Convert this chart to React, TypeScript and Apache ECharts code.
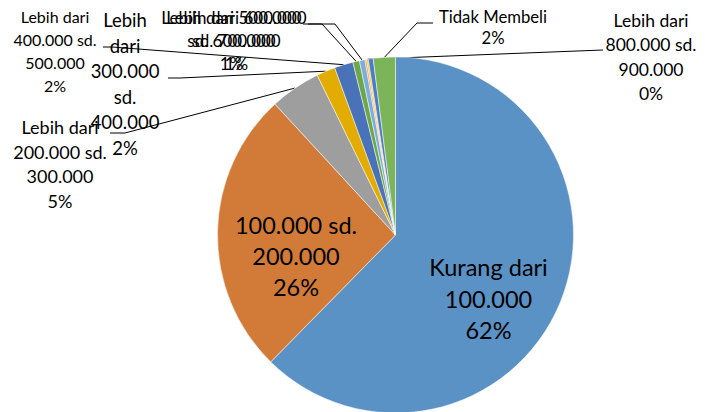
import React, { useEffect, useRef } from 'react';
import * as echarts from 'echarts';

const categories = [
  'Kurang dari 100.000',
  '100.000 sd. 200.000',
  'Lebih dari 200.000 sd. 300.000',
  'Lebih dari 300.000 sd. 400.000',
  'Lebih dari 400.000 sd. 500.000',
  'Lebih dari 500.000 sd. 600.000',
  'Lebih dari 600.000 sd. 700.000',
  'Lebih dari 700.000 sd. 800.000',
  'Lebih dari 800.000 sd. 900.000',
  'Lebih dari 900.000',
  'Tidak Membeli',
];

// share of respondents, percent
const shares = [62.4, 25.8, 4.6, 1.7, 1.7, 0.6, 0.5, 0.15, 0.15, 0.45, 2.0];

// how each data label wraps
const labelTexts = [
  'Kurang dari\n100.000',
  '100.000 sd.\n200.000',
  'Lebih dari\n200.000 sd.\n300.000',
  'Lebih\ndari\n300.000\nsd.\n400.000',
  'Lebih dari\n400.000 sd.\n500.000',
  'Lebih dari 500.000\nsd. 600.000',
  'Lebih dari 600.000\nsd. 700.000',
  'Lebih dari 700.000\nsd. 800.000',
  'Lebih dari\n800.000 sd.\n900.000',
  'Lebih dari 900.000',
  'Tidak Membeli',
];

const colors = [
  '#5B92C5', '#D27B38', '#9E9E9E', '#E2AD00', '#4A72B8', '#6EA64A',
  '#7AAEDD', '#F39A4D', '#FFC21A', '#4A7CC7', '#7CB45A',
];

type Lay = { x: number; y: number; size: number; lh: number; inside?: boolean; line?: number[][] };
const labelLayouts: Record<number, Lay> = {
  0: { x: 488.5, y: 298.5, size: 23.5, lh: 31.5, inside: true },
  1: { x: 296, y: 256, size: 23.5, lh: 31, inside: true },
  2: { x: 60, y: 164, size: 18, lh: 24.5, line: [[125, 133], [110, 133]] },
  3: { x: 125, y: 84, size: 18.5, lh: 25.6, line: [[180, 78], [168, 78]] },
  4: { x: 55, y: 51, size: 16, lh: 22.7, line: [[112, 47], [103, 47]] },
  5: { x: 231.5, y: 40, size: 17, lh: 23, line: [[322, 24], [303, 24]] },
  6: { x: 236.5, y: 40, size: 17, lh: 23, line: [[335, 24], [308, 24]] },
  8: { x: 651, y: 57, size: 17.5, lh: 24.3, line: [[500, 54], [603, 50]] },
  10: { x: 493, y: 27.5, size: 16.7, lh: 21, line: [[417, 23], [433, 23]] },
};

export default function App() {
  const ref = useRef<HTMLDivElement>(null);
  useEffect(() => {
    document.body.style.margin = '0';
    const chart = echarts.init(ref.current!, null, { renderer: 'svg' });
    const data = categories.map((name, i) => {
      const lay = labelLayouts[i];
      return {
        name,
        value: shares[i],
        itemStyle: { color: colors[i] },
        label: lay
          ? { show: true, position: lay.inside ? 'inside' : 'outside', fontSize: lay.size, lineHeight: lay.lh }
          : { show: false },
        labelLine: { show: !!(lay && lay.line) },
      };
    });
    chart.setOption({
      animation: false,
      series: [
        {
          type: 'pie',
          center: [395.5, 235],
          radius: 178,
          startAngle: 90,
          clockwise: true,
          avoidLabelOverlap: false,
          data,
          itemStyle: { borderColor: '#ffffff', borderWidth: 0.5 },
          label: {
            color: '#000',
            fontFamily: 'Lato',
            formatter: (p: any) => `${labelTexts[p.dataIndex]}\n${Math.round(p.value)}%`,
          },
          labelLine: { lineStyle: { color: '#000', width: 1 } },
          emphasis: { disabled: true },
          labelLayout: (params: any) => {
            const lay = labelLayouts[params.dataIndex];
            if (!lay) return {};
            const res: any = { x: lay.x, y: lay.y, align: 'center', verticalAlign: 'middle' };
            if (lay.line && params.labelLinePoints) {
              res.labelLinePoints = [params.labelLinePoints[0], lay.line[0], lay.line[1]];
            }
            return res;
          },
        },
      ],
    });
    return () => chart.dispose();
  }, []);
  return <div ref={ref} style={{ width: 707, height: 412 }} />;
}
